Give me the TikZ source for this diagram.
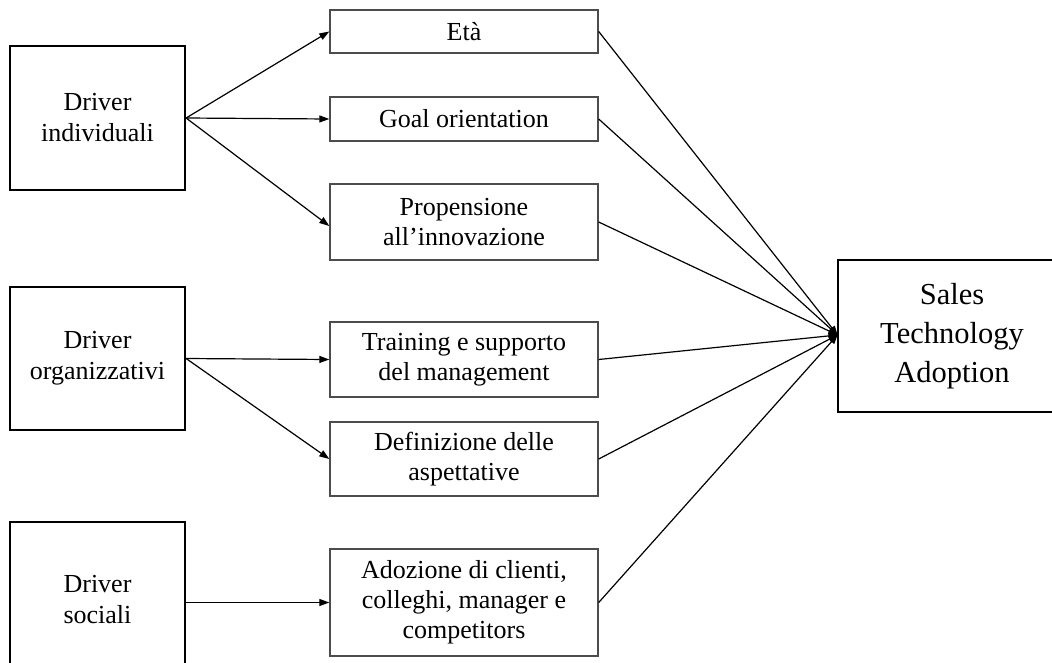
\documentclass[tikz,border=0pt]{standalone}
\usepackage{fontspec}
\setmainfont{Liberation Serif}
\usetikzlibrary{arrows.meta}

\begin{document}
\begin{tikzpicture}[x=1pt,y=-1pt,
  driverbox/.style={draw=black,line width=2.2pt,minimum width=175pt,align=center,
    inner sep=0pt,font=\fontsize{26}{31}\selectfont},
  factorbox/.style={draw=black!70,line width=1.4pt,minimum width=268pt,align=center,
    inner sep=0pt,font=\fontsize{26}{30}\selectfont},
  outcomebox/.style={draw=black,line width=2pt,minimum width=228pt,minimum height=152pt,
    align=center,inner sep=0pt,font=\fontsize{30.5}{39}\selectfont},
  link/.style={draw=black,line width=1.2pt,-{Triangle[length=10pt,width=7pt]}},
  effect/.style={draw=black,line width=1.2pt,-{Triangle[length=9pt,width=7pt]}}]

\useasboundingbox (0,0) rectangle (1052,662);
\clip (0,0) rectangle (1052,662);

% driver groups
\node[driverbox,minimum height=144pt] (ind) at (97.5,118) {Driver\\individuali};
\node[driverbox,minimum height=143pt] (org) at (97.5,358.5) {Driver\\organizzativi};
\node[driverbox,minimum height=156pt] (soc) at (97.5,600) {Driver\\sociali};

% single factors
\node[factorbox,minimum height=43pt] (eta) at (464,31.5) {Età};
\node[factorbox,minimum height=44pt] (goal) at (464,119) {Goal orientation};
\node[factorbox,minimum height=76pt] (prop) at (464,222) {Propensione\\all’innovazione};
\node[factorbox,minimum height=75pt] (train) at (464,359.5) {Training e supporto\\del management};
\node[factorbox,minimum height=74pt] (def) at (464,459) {Definizione delle\\aspettative};
\node[factorbox,minimum height=107pt] (adoz) at (464,602.5) {Adozione di clienti,\\colleghi, manager e\\competitors};

% outcome
\node[outcomebox] (sta) at (952,336) {Sales\\Technology\\Adoption};
\coordinate (hub) at (837.5,335);

% drivers to factors
\draw[link] (ind.east) -- (eta.west);
\draw[link] (ind.east) -- (goal.west);
\draw[link] (ind.east) -- ([yshift=-4pt]prop.west);
\draw[link] (org.east) -- (train.west);
\draw[link] (org.east) -- (def.west);
\draw[link] (soc.east |- adoz.west) -- (adoz.west);

% factors to outcome
\foreach \f in {eta,goal,prop,train,def,adoz}
  \draw[effect] (\f.east) -- (hub);
\end{tikzpicture}
\end{document}
